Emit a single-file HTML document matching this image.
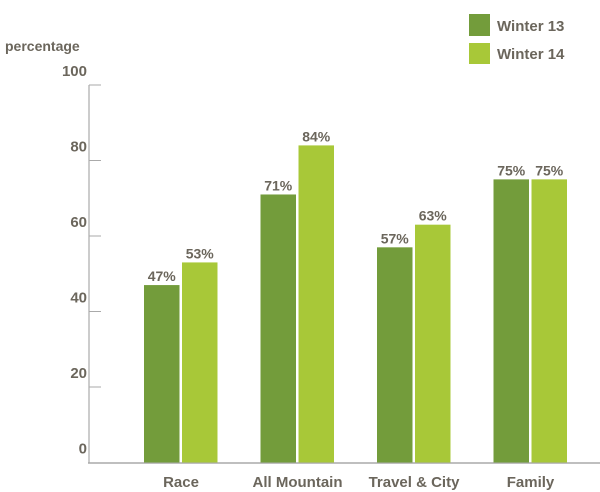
<!DOCTYPE html>
<html><head><meta charset="utf-8"><style>
body{margin:0;background:#fff;}
svg{display:block;font-family:"Liberation Sans",sans-serif;font-weight:bold;}
</style></head><body>
<svg id="chart" width="600" height="492" viewBox="0 0 600 492">
<text x="5" y="51" font-size="14" fill="#6b665c">percentage</text>
<g id="axis"></g><g id="bars"></g>
<g>
<rect x="469" y="14" width="21" height="22" fill="#739c3b"/>
<text x="497" y="31" font-size="15" fill="#6b665c">Winter 13</text>
<rect x="469" y="43" width="21" height="21" fill="#a8c838"/>
<text x="497" y="59" font-size="15" fill="#6b665c">Winter 14</text>
</g>
</svg>
<script>
const categories=["Race","All Mountain","Travel & City","Family"];
const winter13=[47,71,57,75];
const winter14=[53,84,63,75];
const yTicks=[0,20,40,60,80,100];
const NS="http://www.w3.org/2000/svg";
const y=v=>462.5-v*3.775;
const gx=i=>144+i*116.5;
function mk(tag,attrs,parent,text){const e=document.createElementNS(NS,tag);for(const k in attrs)e.setAttribute(k,attrs[k]);if(text!==undefined)e.textContent=text;parent.appendChild(e);return e;}
const ax=document.getElementById('axis'),bg=document.getElementById('bars');
let l=mk('line',{x1:89,y1:y(100),x2:89,y2:463,stroke:'#aaa','stroke-width':1.2},ax);


l=mk('line',{x1:88,y1:463,x2:600,y2:463,stroke:'#aaa','stroke-width':1.5},ax);


yTicks.forEach(t=>{
 if(t>0){const tk=mk('line',{x1:89,y1:y(t),x2:101,y2:y(t),stroke:'#aaa','stroke-width':1},ax);
 
 }
 const tx=mk('text',{x:t===0?87:87,y:t===0?y(t)-9:y(t)-9,'text-anchor':'end','font-size':15,fill:'#6b665c'},ax,String(t));
 
 
});
categories.forEach((c,i)=>{
 const x0=gx(i);
 [[winter13,'#739c3b',0],[winter14,'#a8c838',38]].forEach(([arr,col,off],s)=>{
  const v=arr[i];
  const r=mk('rect',{x:x0+off,y:y(v),width:35.5,height:462.5-y(v),fill:col},bg);
  
  
  const t=mk('text',{x:x0+off+17.75,y:y(v)-4,'text-anchor':'middle','font-size':14,fill:'#6b665c'},bg,v+'%');
  
  
 });
 const cl=mk('text',{x:x0+37,y:487,'text-anchor':'middle','font-size':15,fill:'#6b665c'},bg,c);
 
 
});
</script>
</body></html>
